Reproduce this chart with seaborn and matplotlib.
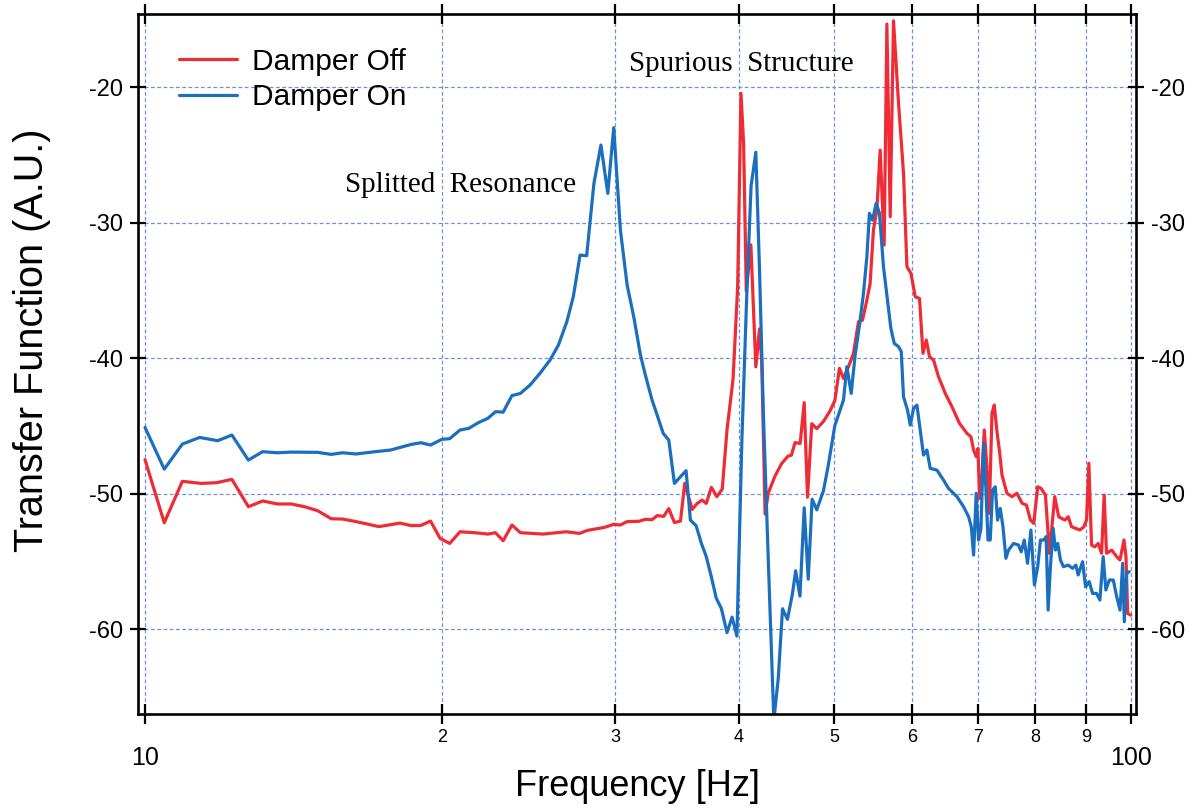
import matplotlib
matplotlib.use("Agg")
import matplotlib.pyplot as plt
from matplotlib import font_manager as fm
from matplotlib.ticker import FixedLocator, FixedFormatter
import numpy as np
import pandas as pd
import seaborn as sns

# ---------------- data ----------------
off_freq = [10.0, 10.46, 10.91, 11.41, 11.82, 12.25, 12.73, 13.16, 13.63, 14.07,
            14.51, 14.97, 15.45, 15.86, 16.37, 17.27, 18.14, 18.63, 19.05, 19.48,
            19.92, 20.37, 20.87, 21.59, 22.27, 22.67, 23.08, 23.56, 24.03, 25.34,
            26.74, 27.59, 28.09, 29.23, 29.88, 30.35, 30.83, 31.68, 32.17, 32.68,
            33.07, 33.58, 33.98, 34.43, 34.92, 35.27, 35.89, 36.31, 36.73, 37.09,
            37.53, 38.02, 38.5, 38.93, 39.48, 39.91, 40.22, 40.47, 40.72, 41.16,
            41.64, 42.0, 42.22, 42.55, 42.87, 43.54, 44.22, 44.9, 45.25, 45.63,
            46.18, 46.62, 46.98, 47.45, 48.01, 48.76, 49.51, 50.08, 50.62, 51.1,
            51.7, 52.31, 52.92, 53.42, 53.97, 54.38, 54.8, 55.24, 55.67, 56.19,
            56.55, 56.99, 57.43, 58.11, 58.79, 59.26, 59.82, 60.42, 61.03, 61.52,
            62.0, 62.47, 63.06, 63.8, 64.81, 65.83, 67.0, 68.18, 68.82, 69.24,
            69.67, 69.95, 70.21, 70.6, 70.99, 71.43, 71.82, 72.28, 72.67, 73.13,
            73.57, 73.99, 74.85, 75.73, 76.62, 77.55, 78.34, 79.07, 79.68, 80.43,
            81.07, 81.89, 82.66, 83.69, 84.47, 85.7, 86.36, 87.04, 88.75, 89.58,
            90.14, 90.63, 91.2, 91.91, 92.62, 93.36, 93.93, 94.45, 95.61, 96.73,
            97.47, 98.38, 98.84, 99.23, 99.93]
off_vals = [-47.5, -52.15, -49.1, -49.25, -49.2, -48.95, -50.97, -50.55, -50.77, -50.77,
            -50.97, -51.27, -51.86, -51.88, -52.07, -52.44, -52.18, -52.37, -52.35, -52.03,
            -53.31, -53.68, -52.82, -52.89, -52.99, -52.89, -53.48, -52.32, -52.89, -52.99,
            -52.82, -52.94, -52.72, -52.5, -52.27, -52.32, -52.07, -52.05, -51.9, -51.93,
            -51.63, -51.68, -51.11, -52.14, -52.03, -49.25, -51.17, -50.73, -50.48, -50.73,
            -49.54, -50.23, -49.67, -45.3, -41.58, -34.75, -20.47, -24.19, -35.06, -31.65,
            -40.65, -37.85, -40.34, -51.51, -49.96, -48.72, -47.79, -47.23, -47.17, -46.24,
            -46.3, -43.29, -50.27, -44.84, -45.21, -44.68, -43.91, -43.13, -40.76, -41.5,
            -40.64, -39.65, -37.32, -37.2, -35.72, -34.49, -30.55, -29.08, -24.65, -31.66,
            -15.35, -29.57, -15.11, -21.2, -26.37, -33.26, -33.75, -35.48, -35.6, -39.65,
            -38.67, -39.9, -40.15, -41.38, -42.61, -43.59, -44.82, -45.56, -45.81, -46.79,
            -47.28, -46.67, -50.36, -48.76, -45.31, -48.02, -51.46, -44.08, -43.47, -45.43,
            -46.91, -48.63, -49.98, -50.23, -49.98, -50.72, -50.85, -51.96, -52.2, -49.5,
            -49.62, -50.11, -54.41, -50.23, -51.71, -51.96, -51.71, -52.45, -52.69, -52.45,
            -51.96, -47.77, -53.8, -53.93, -53.68, -54.41, -50.11, -54.41, -54.17, -54.66,
            -54.9, -53.42, -54.66, -58.85, -58.97]

on_freq = [10.0, 10.46, 10.91, 11.36, 11.85, 12.25, 12.73, 13.16, 13.63, 14.07,
           14.97, 15.45, 15.86, 16.37, 17.12, 17.74, 18.63, 19.05, 19.48, 20.0,
           20.37, 20.87, 21.3, 21.78, 22.27, 22.67, 23.08, 23.56, 24.03, 24.58,
           25.15, 25.75, 26.26, 26.78, 27.19, 27.62, 28.05, 28.53, 29.0, 29.47,
           29.88, 30.35, 30.83, 31.31, 31.8, 32.17, 32.68, 33.07, 33.54, 33.98,
           34.43, 34.92, 35.38, 35.74, 36.22, 36.67, 37.09, 37.53, 37.97, 38.42,
           38.93, 39.39, 39.84, 40.31, 40.78, 41.18, 41.64, 42.0, 42.38, 42.87,
           43.43, 43.88, 44.32, 44.83, 45.35, 45.7, 46.16, 46.62, 47.06, 47.49,
           48.01, 48.76, 49.31, 50.08, 50.67, 51.1, 51.5, 52.03, 52.51, 53.13,
           53.54, 53.97, 54.29, 54.68, 55.15, 55.58, 56.1, 56.63, 57.08, 57.53,
           58.11, 58.48, 58.79, 59.34, 59.72, 60.18, 60.66, 61.13, 61.6, 62.09,
           62.57, 63.56, 64.54, 65.3, 66.6, 67.64, 68.44, 68.87, 69.24, 69.67,
           70.05, 70.44, 70.87, 71.27, 71.61, 71.99, 72.38, 72.83, 73.23, 73.69,
           74.16, 74.67, 75.13, 76.01, 76.9, 77.39, 77.94, 78.54, 79.16, 79.81,
           80.43, 80.94, 81.57, 82.03, 82.41, 82.85, 83.38, 83.83, 84.28, 84.81,
           85.4, 86.36, 87.25, 87.93, 88.4, 89.31, 89.94, 90.7, 91.42, 92.28,
           93.0, 93.71, 94.3, 95.06, 95.95, 96.72, 97.47, 98.08, 98.45, 99.0, 99.6]
on_vals = [-45.12, -48.2, -46.35, -45.86, -46.1, -45.68, -47.53, -46.91, -46.99, -46.94,
           -46.96, -47.11, -46.99, -47.08, -46.91, -46.79, -46.37, -46.25, -46.42, -46.0,
           -45.95, -45.31, -45.19, -44.77, -44.45, -43.96, -43.99, -42.77, -42.61, -41.99,
           -41.13, -40.15, -39.04, -37.32, -35.47, -32.4, -32.45, -27.11, -24.28, -27.85,
           -23.0, -30.55, -34.61, -36.95, -39.76, -41.25, -43.1, -44.21, -45.56, -46.05,
           -49.25, -48.76, -48.31, -51.96, -52.37, -53.68, -54.66, -56.14, -57.74, -58.48,
           -60.27, -59.12, -60.52, -45.93, -35.05, -27.3, -24.81, -33.5, -44.06, -54.93,
           -66.73, -63.62, -58.5, -59.28, -57.42, -55.7, -57.57, -51.05, -56.32, -50.42,
           -51.2, -49.8, -47.94, -44.98, -43.9, -43.1, -40.64, -42.61, -39.78, -37.2,
           -35.23, -32.52, -29.32, -29.82, -28.58, -29.32, -33.26, -35.72, -37.81, -38.92,
           -39.16, -39.53, -42.86, -43.84, -44.95, -43.72, -43.47, -45.31, -47.16, -46.79,
           -48.14, -48.27, -49.0, -49.62, -50.23, -50.97, -51.71, -52.45, -54.54, -49.98,
           -53.43, -52.57, -46.3, -49.74, -53.43, -53.43, -49.74, -49.5, -51.96, -51.1,
           -52.45, -54.78, -54.17, -53.68, -53.8, -54.3, -53.43, -55.15, -52.69, -56.75,
           -55.4, -53.43, -53.43, -53.18, -58.6, -55.4, -52.57, -54.17, -53.68, -54.9,
           -55.4, -55.28, -55.52, -55.28, -56.01, -55.03, -56.88, -56.5, -57.37, -57.37,
           -57.86, -54.66, -57.12, -56.38, -56.38, -57.61, -58.6, -55.15, -59.46, -55.89, -55.77]

series_names = ["Damper Off", "Damper On"]
major_x = [10, 100]
major_x_labels = ["10", "100"]
minor_x = [20, 30, 40, 50, 60, 70, 80, 90]
minor_x_labels = ["2", "3", "4", "5", "6", "7", "8", "9"]
y_ticks = [-60, -50, -40, -30, -20]
annotations = [("Splitted  Resonance", 15.96, -27.75), ("Spurious  Structure", 31.0, -18.8)]

# ---------------- style ----------------
def has_font(name):
    try:
        fm.findfont(fm.FontProperties(family=name), fallback_to_default=False)
        return True
    except Exception:
        return False

narrow = "Liberation Sans Narrow" if has_font("Liberation Sans Narrow") else "Liberation Sans"

sns.set_theme(style="white")
plt.rcParams["font.family"] = [narrow, "DejaVu Sans"]
plt.rcParams["text.color"] = "black"
plt.rcParams["axes.labelcolor"] = "black"
plt.rcParams["xtick.color"] = "black"
plt.rcParams["ytick.color"] = "black"

RED = "#ef2b36"
BLUE = "#1c6fbe"
GRID = "#6f93d2"

df = pd.concat([
    pd.DataFrame({"freq": off_freq, "tf": off_vals, "series": series_names[0]}),
    pd.DataFrame({"freq": on_freq, "tf": on_vals, "series": series_names[1]}),
], ignore_index=True)

fig = plt.figure(figsize=(11.96, 8.09), dpi=100)
ax = fig.add_axes([0.1154, 0.1174, 0.8344, 0.8653])

sns.lineplot(data=df, x="freq", y="tf", hue="series", hue_order=series_names,
             palette={series_names[0]: RED, series_names[1]: BLUE},
             estimator=None, sort=False, linewidth=2.3, ax=ax)

ax.set_xscale("log")
ax.set_xlim(9.838, 101.17)
ax.set_ylim(-66.27, -14.61)

ax.xaxis.set_major_locator(FixedLocator(major_x))
ax.xaxis.set_major_formatter(FixedFormatter(major_x_labels))
ax.xaxis.set_minor_locator(FixedLocator(minor_x))
ax.xaxis.set_minor_formatter(FixedFormatter(minor_x_labels))
ax.set_yticks(y_ticks)
ax.set_yticklabels([str(v) for v in y_ticks])

ax.tick_params(axis="x", which="both", direction="inout", length=14, width=1.6,
               top=True, bottom=True, colors="black")
ax.tick_params(axis="x", which="major", labelsize=18, pad=16)
ax.tick_params(axis="x", which="minor", labelsize=13, pad=4)
ax.tick_params(axis="y", which="major", direction="inout", length=11, width=1.6,
               left=True, right=True, labelleft=True, labelright=True,
               labelsize=17, pad=5, colors="black")

ax.grid(True, axis="x", which="both", color=GRID, linestyle=(0, (3, 2)), linewidth=0.9)
ax.grid(True, axis="y", which="major", color=GRID, linestyle=(0, (3, 2)), linewidth=0.9)
ax.set_axisbelow(True)

for sp in ax.spines.values():
    sp.set_visible(True)
    sp.set_color("black")
    sp.set_linewidth(1.9)

ax.set_xlabel("")
ax.set_ylabel("")

for text, fx, fy in annotations:
    ax.text(fx, fy, text, family=["Liberation Serif", "DejaVu Serif"], fontsize=21,
            ha="left", va="baseline", color="black")

handles, labels = ax.get_legend_handles_labels()
ax.legend(handles, labels, loc="upper left", bbox_to_anchor=(0.041, 0.952),
          frameon=False, prop={"family": "Liberation Sans", "size": 21.5},
          labelcolor="black",
          handlelength=1.95, handletextpad=0.5, labelspacing=0.26,
          borderaxespad=0, borderpad=0)

fig.text(0.0268, 0.5797, "Transfer Function (A.U.)", rotation=90, ha="center",
         va="center", fontsize=28.5, family="Liberation Sans", color="black")
fig.text(0.533, 0.0284, "Frequency [Hz]", ha="center", va="center", fontsize=26,
         family=narrow, color="black")

fig.savefig("out.png", dpi=100)
